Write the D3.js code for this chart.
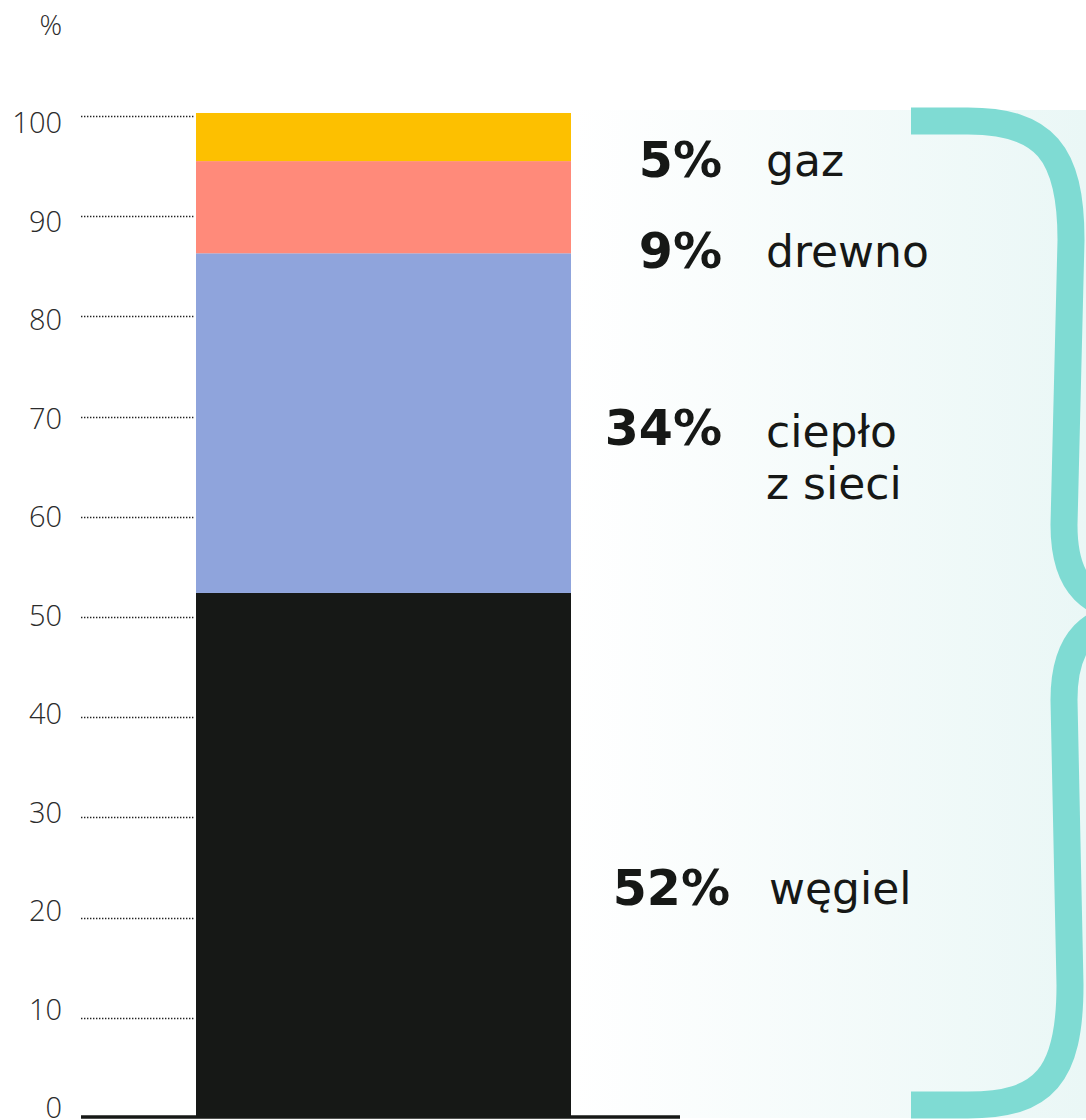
<!DOCTYPE html>
<html>
<head>
<meta charset="utf-8">
<script src="https://cdn.jsdelivr.net/npm/d3@7"></script>
<style>
  html, body { margin: 0; padding: 0; background: #ffffff; }
  svg { display: block; }
</style>
</head>
<body>
<svg id="chart" width="1086" height="1120"></svg>
<script>
// ---- data ----
const categories = ["udział"];
const seriesNames = ["węgiel", "ciepło z sieci", "drewno", "gaz"];
const seriesValues = [52.4, 33.9, 9.2, 4.8];
const seriesLabels = ["52%", "34%", "9%", "5%"];
const seriesColors = ["#161816", "#8fa4dc", "#ff8a7a", "#fdc000"];
const tickValues = [0, 10, 20, 30, 40, 50, 60, 70, 80, 90, 100];
const unitLabel = "%";

// ---- scales ----
const svg = d3.select("#chart");
const W = 1086, H = 1120;
const y = d3.scaleLinear().domain([0, 100]).range([1118, 116]);
// tick labels in the reference sit on a slightly compressed scale
const yLabel = d3.scaleLinear().domain([0, 100]).range([1118, 133]);
const x = d3.scaleBand().domain(categories).range([196, 571]).padding(0);

// stacked data
const row = {};
seriesNames.forEach((n, i) => row[n] = seriesValues[i]);
const stack = d3.stack().keys(seriesNames)([row]);

// background gradient panel
const defs = svg.append("defs");
const grad = defs.append("linearGradient").attr("id", "panelGrad")
  .attr("x1", "0%").attr("x2", "100%").attr("y1", "0%").attr("y2", "0%");
grad.append("stop").attr("offset", "0%").attr("stop-color", "#ffffff");
grad.append("stop").attr("offset", "100%").attr("stop-color", "#eaf7f6");

svg.append("rect")
  .attr("x", x.range()[1]).attr("y", y(100) - 6)
  .attr("width", W - x.range()[1]).attr("height", y(0) - y(100) + 6)
  .attr("fill", "url(#panelGrad)");

// gridlines (dotted), left of the bar
svg.append("g").selectAll("line").data(tickValues.filter(d => d > 0)).join("line")
  .attr("x1", 81).attr("x2", 194)
  .attr("y1", d => Math.round(y(d)) + 0.5).attr("y2", d => Math.round(y(d)) + 0.5)
  .attr("stroke", "#222")
  .attr("stroke-width", 1.4)
  .attr("stroke-dasharray", "1.4,1.6");

// tick labels
svg.append("g").selectAll("text").data(tickValues).join("text")
  .attr("x", 62).attr("y", d => yLabel(d))
  .attr("text-anchor", "end")
  .attr("font-family", "'Open Sans', sans-serif")
  .attr("font-weight", 300)
  .attr("font-size", 29)
  .attr("fill", "#2b2b2b")
  .text(d => d);

svg.append("text")
  .attr("x", 62).attr("y", 35)
  .attr("text-anchor", "end")
  .attr("font-family", "'Open Sans', sans-serif")
  .attr("font-weight", 300)
  .attr("font-size", 28)
  .attr("fill", "#2b2b2b")
  .text(unitLabel);

// bars
svg.append("g").selectAll("rect").data(stack).join("rect")
  .attr("x", x(categories[0]))
  .attr("width", x.bandwidth())
  .attr("y", d => y(d[0][1]))
  .attr("height", d => y(d[0][0]) - y(d[0][1]))
  .attr("fill", (d, i) => seriesColors[i]);

// baseline axis
svg.append("line")
  .attr("x1", 81).attr("x2", 680)
  .attr("y1", y(0) - 1).attr("y2", y(0) - 1)
  .attr("stroke", "#161816").attr("stroke-width", 3.5);

// brace
const brace = "M 911 121 H 968 C 1044 121, 1071 152, 1071 240 L 1064 525 " +
  "C 1064 588, 1092 607, 1140 612 C 1092 617, 1064 638, 1064 700 " +
  "L 1070 985 C 1070 1076, 1044 1105, 968 1105 H 911";
svg.append("path").attr("d", brace)
  .attr("fill", "none").attr("stroke", "#7fdbd3").attr("stroke-width", 27);

// labels
const labelBaselines = [905, 445, 268, 177];
const pctRight = [730, 722, 722, 722];
const nameX = [769, 766, 766, 766];
const gLab = svg.append("g");
stack.forEach((s, i) => {
  const by = labelBaselines[i];
  gLab.append("text")
    .attr("x", pctRight[i]).attr("y", by)
    .attr("text-anchor", "end")
    .attr("font-family", "'DejaVu Sans', sans-serif")
    .attr("font-weight", 700)
    .attr("font-size", 49)
    .attr("fill", "#161816")
    .text(seriesLabels[i]);
  const lines = i === 1 ? ["ciepło", "z sieci"] : [seriesNames[i]];
  lines.forEach((ln, j) => {
    gLab.append("text")
      .attr("x", nameX[i]).attr("y", by + (i === 1 ? 2 : -1) + j * 52)
      .attr("font-family", "'DejaVu Sans', sans-serif")
      .attr("font-weight", 400)
      .attr("font-size", 44)
      .attr("fill", "#161816")
      .text(ln);
  });
});
</script>
</body>
</html>
